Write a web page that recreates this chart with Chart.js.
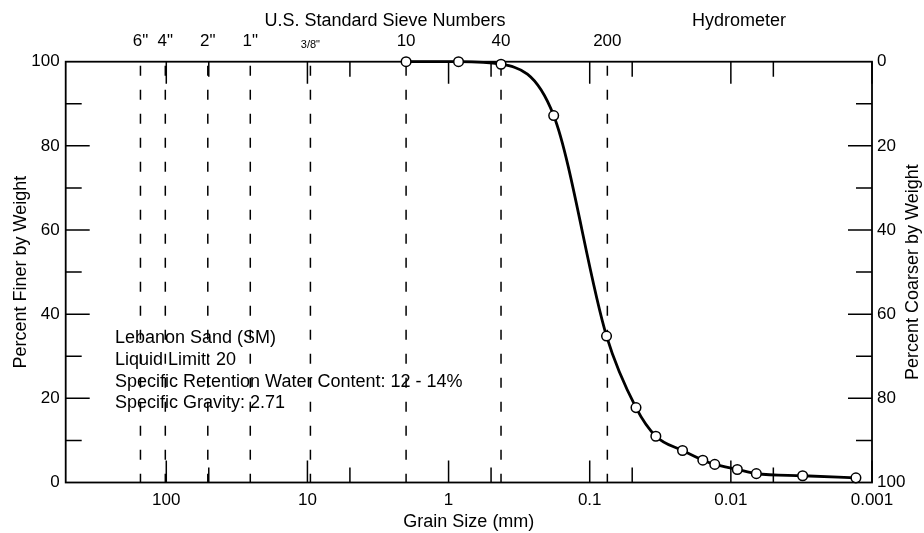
<!DOCTYPE html>
<html>
<head>
<meta charset="utf-8">
<script src="https://cdn.jsdelivr.net/npm/chart.js@4.4.0/dist/chart.umd.min.js"></script>
<style>
html, body { margin: 0; padding: 0; background: #fff; }
#wrap { width: 924px; height: 533px; }
</style>
</head>
<body>
<div id="wrap"><canvas id="gradation" width="924" height="533"></canvas></div>
<script>
// grain size (mm) and percent finer
var grainSize = [2.0, 0.85, 0.425, 0.18, 0.076, 0.047, 0.034, 0.022, 0.0158, 0.013, 0.009, 0.0066, 0.0031, 0.0013];
var percentFiner = [100, 100, 99.4, 87.2, 34.8, 17.8, 11.0, 7.6, 5.3, 4.3, 3.1, 2.1, 1.6, 1.1];

var sizeTicks = [100, 10, 1, 0.1, 0.01, 0.001];
var halfTicks = [50, 5, 0.5, 0.05, 0.005];
var sieveSizes = [152.4, 101.6, 50.8, 25.4, 9.525, 2.0, 0.425, 0.075];
var sieveLabels = ['6"', '4"', '2"', '1"', '3/8"', '10', '40', '200'];
var percentTicks = [0, 20, 40, 60, 80, 100];

var soilNotes = ['Lebanon Sand (SM)', 'Liquid Limit: 20', 'Specific Retention Water Content: 12 - 14%', 'Specific Gravity: 2.71'];

var FONT = '"Liberation Sans", Arial, Helvetica, sans-serif';

function fixTicks(values) {
    return function (scale) {
        scale.ticks = values.map(function (v) { return { value: v }; });
    };
}

var framePlugin = {
    id: 'frame',
    beforeDatasetsDraw: function (chart) {
        var ctx = chart.ctx, a = chart.chartArea;
        var x = chart.scales.x, y = chart.scales.y;
        ctx.save();
        ctx.strokeStyle = '#000';

        // dashed sieve lines
        ctx.lineWidth = 1.5;
        ctx.setLineDash([10, 14]);
        sieveSizes.forEach(function (s) {
            var px = x.getPixelForValue(s);
            ctx.beginPath();
            ctx.moveTo(px, a.top + 4);
            ctx.lineTo(px, a.bottom);
            ctx.stroke();
        });
        ctx.setLineDash([]);

        // inward tick marks, top and bottom
        ctx.lineWidth = 1.5;
        function xTick(v, len) {
            var px = x.getPixelForValue(v);
            ctx.beginPath();
            ctx.moveTo(px, a.top); ctx.lineTo(px, a.top + len);
            ctx.moveTo(px, a.bottom); ctx.lineTo(px, a.bottom - len);
            ctx.stroke();
        }
        sizeTicks.forEach(function (v) { xTick(v, 22); });
        halfTicks.forEach(function (v) { xTick(v, 15); });

        // inward tick marks, left and right
        for (var p = 10; p < 100; p += 10) {
            var len = p % 20 === 0 ? 24 : 16;
            var py = y.getPixelForValue(p);
            ctx.beginPath();
            ctx.moveTo(a.left, py); ctx.lineTo(a.left + len, py);
            ctx.moveTo(a.right, py); ctx.lineTo(a.right - len, py);
            ctx.stroke();
        }

        // frame
        ctx.lineWidth = 1.8;
        ctx.strokeRect(a.left, a.top, a.right - a.left, a.bottom - a.top);
        ctx.restore();
    },
    afterDraw: function (chart) {
        var ctx = chart.ctx, a = chart.chartArea;
        var midY = (a.top + a.bottom) / 2;
        ctx.save();
        ctx.fillStyle = '#000';
        ctx.font = '18px ' + FONT;
        ctx.textBaseline = 'alphabetic';

        ctx.textAlign = 'center';
        ctx.fillText('U.S. Standard Sieve Numbers', 385, 26);
        ctx.fillText('Hydrometer', 739, 26);
        ctx.fillText('Grain Size (mm)', (a.left + a.right) / 2, 527);

        ctx.save();
        ctx.translate(26, midY);
        ctx.rotate(-Math.PI / 2);
        ctx.fillText('Percent Finer by Weight', 0, 0);
        ctx.restore();

        ctx.save();
        ctx.translate(918, midY);
        ctx.rotate(-Math.PI / 2);
        ctx.fillText('Percent Coarser by Weight', 0, 0);
        ctx.restore();

        ctx.textAlign = 'left';
        soilNotes.forEach(function (line, i) {
            ctx.fillText(line, 115, 343 + i * 21.8);
        });
        ctx.restore();
    }
};

var ctx = document.getElementById('gradation').getContext('2d');

var points = grainSize.map(function (g, i) {
    return { x: g, y: percentFiner[i] };
});

var tickFont = { family: FONT, size: 17 };

new Chart(ctx, {
    type: 'line',
    data: {
        datasets: [{
            data: points,
            borderColor: '#000',
            borderWidth: 2.8,
            cubicInterpolationMode: 'monotone',
            pointRadius: 4.8,
            pointBackgroundColor: '#fff',
            pointBorderColor: '#000',
            pointBorderWidth: 1.5,
            clip: false
        }]
    },
    options: {
        responsive: false,
        devicePixelRatio: 1,
        animation: false,
        layout: { padding: 0 },
        plugins: {
            legend: { display: false },
            tooltip: { enabled: false }
        },
        scales: {
            x: {
                type: 'logarithmic',
                position: 'bottom',
                reverse: true,
                min: 0.001,
                max: 516,
                afterBuildTicks: fixTicks(sizeTicks),
                afterFit: function (s) { s.height = 50.5; },
                grid: { display: false, drawTicks: false },
                border: { display: false },
                ticks: {
                    autoSkip: false,
                    maxRotation: 0,
                    padding: 8,
                    color: '#000',
                    font: tickFont,
                    callback: function (v) { return String(v); }
                }
            },
            x2: {
                type: 'logarithmic',
                position: 'top',
                reverse: true,
                min: 0.001,
                max: 516,
                afterBuildTicks: fixTicks(sieveSizes),
                afterFit: function (s) { s.height = 61.7; },
                grid: { display: false, drawTicks: false },
                border: { display: false },
                ticks: {
                    autoSkip: false,
                    maxRotation: 0,
                    padding: 10,
                    color: '#000',
                    font: function (c) {
                        return { family: FONT, size: c.index === 4 ? 11 : 17 };
                    },
                    callback: function (v, i) { return sieveLabels[i]; }
                }
            },
            y: {
                type: 'linear',
                position: 'left',
                min: 0,
                max: 100,
                afterBuildTicks: fixTicks(percentTicks),
                afterFit: function (s) { s.width = 65.7; },
                grid: { display: false, drawTicks: false },
                border: { display: false },
                ticks: { padding: 6, color: '#000', font: tickFont }
            },
            y2: {
                type: 'linear',
                position: 'right',
                reverse: true,
                min: 0,
                max: 100,
                afterBuildTicks: fixTicks(percentTicks),
                afterFit: function (s) { s.width = 52; },
                grid: { display: false, drawTicks: false },
                border: { display: false },
                ticks: { padding: 5, color: '#000', font: tickFont }
            }
        }
    },
    plugins: [framePlugin]
});
</script>
</body>
</html>
